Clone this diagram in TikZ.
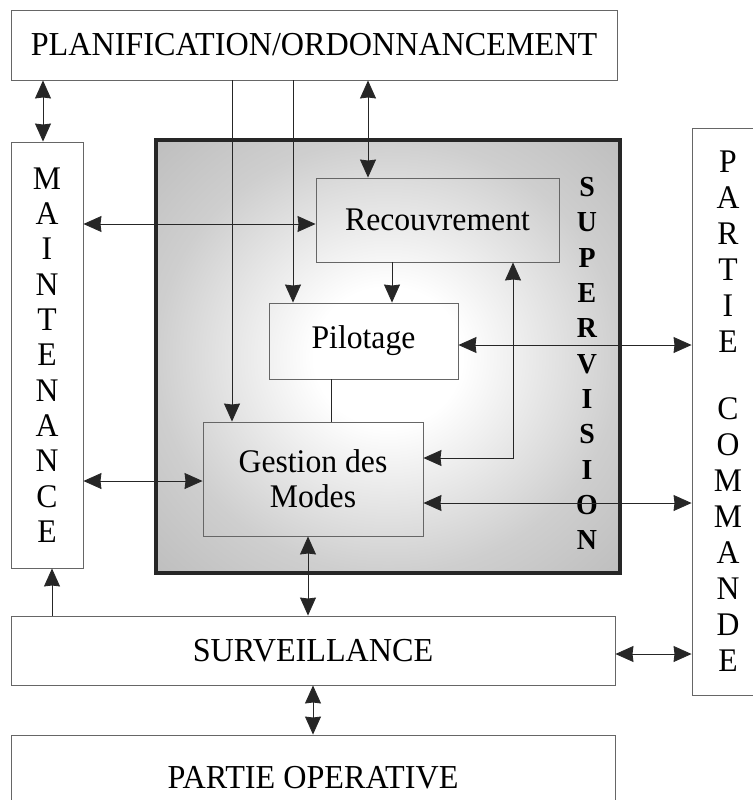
\documentclass[tikz,border=0pt]{standalone}
\usepackage{fontspec}
\setmainfont[FakeStretch=0.96]{Liberation Serif}
\usetikzlibrary{arrows.meta}
% soft radial light for the supervision block
\pgfdeclareradialshading{supshade}{\pgfpoint{0bp}{0bp}}{%
  color(0bp)=(white); color(8bp)=(white); color(25bp)=(black!19);
  color(38bp)=(black!27); color(50bp)=(black!33)}
\begin{document}
\begin{tikzpicture}[x=1pt,y=-1pt,
  box/.style={draw=black!60, line width=0.9pt, fill=white, inner sep=0pt,
    align=center, font=\fontsize{33.5}{35}\selectfont},
  inbox/.style={box, fill=none, font=\fontsize{33}{35}\selectfont},
  column/.style={box, font=\fontsize{33}{35.3}\selectfont},
  conn/.style={draw=black!85, line width=0.8pt},
  >={Stealth[length=18pt,width=16pt,inset=1pt]}
]
\useasboundingbox (0,0) rectangle (752,800);

% supervision block
\node[draw=black!85, line width=3.5pt, shading=supshade,
      minimum width=464pt, minimum height=433pt] (sup) at (388,356.5) {};
\node[font=\bfseries\fontsize{29}{35.3}\selectfont, align=center, inner sep=0pt]
  (suplabel) at (587,363.5) {S\\U\\P\\E\\R\\V\\I\\S\\I\\O\\N};

% outer blocks
\node[box, minimum width=606pt, minimum height=70pt] (plan) at (314,45)
  {PLANIFICATION/ORDONNANCEMENT};
\node[column, minimum width=72pt, minimum height=426pt] (maint) at (47,355)
  {M\\A\\I\\N\\T\\E\\N\\A\\N\\C\\E};
\node[box, minimum width=72pt, minimum height=567pt,
      font=\fontsize{33}{36}\selectfont] (cmd) at (728,411.5)
  {P\\A\\R\\T\\I\\E\\[31pt]C\\O\\M\\M\\A\\N\\D\\E};
\node[box, minimum width=604pt, minimum height=69pt] (surv) at (313,650.5)
  {SURVEILLANCE};
\node[box, minimum width=604pt, minimum height=85pt] (oper) at (313,777.5)
  {PARTIE OPERATIVE};

% inner blocks
\node[inbox, minimum width=243pt, minimum height=84pt] (recou) at (437.5,220)
  {Recouvrement};
\node[inbox, minimum width=189pt, minimum height=76pt] (pilo) at (363.5,341)
  {Pilotage};
\node[inbox, minimum width=220pt, minimum height=114pt] (gest) at (313,479)
  {Gestion des\\Modes};

% columns and rows used by the connectors
\coordinate (c43) at (43,0);
\coordinate (c52) at (52,0);
\coordinate (c232) at (232,0);
\coordinate (c293) at (293,0);
\coordinate (c308) at (308,0);
\coordinate (c313) at (313,0);
\coordinate (c331) at (331,0);
\coordinate (c368) at (368,0);
\coordinate (c392) at (392,0);
\coordinate (c513) at (513,0);
\coordinate (r224) at (0,224);
\coordinate (r345) at (0,345);
\coordinate (r458) at (0,458);
\coordinate (r481) at (0,481);
\coordinate (r503) at (0,503);
\coordinate (r654) at (0,654);

% connectors
\draw[conn,<->] (c43 |- plan.south) -- (c43 |- maint.north);
\draw[conn,->] (c232 |- plan.south) -- (c232 |- gest.north);
\draw[conn,->] (c293 |- plan.south) -- (c293 |- pilo.north);
\draw[conn,<->] (c368 |- plan.south) -- (c368 |- recou.north);
\draw[conn,<->] (maint.east |- r224) -- (recou.west |- r224);
\draw[conn,->] (c392 |- recou.south) -- (c392 |- pilo.north);
\draw[conn,<->] (pilo.east |- r345) -- (cmd.west |- r345);
\draw[conn] (c331 |- pilo.south) -- (c331 |- gest.north);
\draw[conn,<->] (c513 |- recou.south) -- (c513 |- r458) -- (gest.east |- r458);
\draw[conn,<->] (maint.east |- r481) -- (gest.west |- r481);
\draw[conn,<->] (gest.east |- r503) -- (cmd.west |- r503);
\draw[conn,<->] (c308 |- gest.south) -- (c308 |- surv.north);
\draw[conn,->] (c52 |- surv.north) -- (c52 |- maint.south);
\draw[conn,<->] (surv.east |- r654) -- (cmd.west |- r654);
\draw[conn,<->] (c313 |- surv.south) -- (c313 |- oper.north);
\end{tikzpicture}
\end{document}
